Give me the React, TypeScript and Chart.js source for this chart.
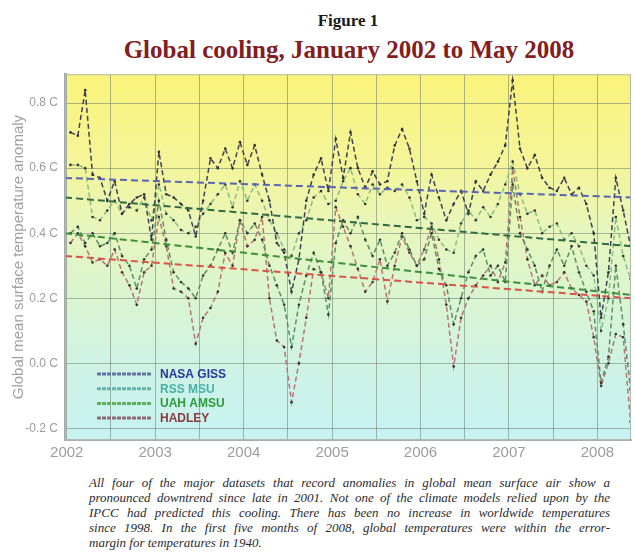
import React, { useEffect, useRef } from 'react';
import { Chart, registerables } from 'chart.js';

Chart.register(...registerables);

// ---------- data ----------
const seriesNames = ['NASA GISS', 'RSS MSU', 'UAH AMSU', 'HADLEY'];
const startYear = 2002; // first value = January 2002, monthly to May 2008

const nasaGiss = [
  0.71, 0.70, 0.84, 0.58, 0.57, 0.50, 0.56, 0.46, 0.49, 0.51, 0.52, 0.38,
  0.65, 0.52, 0.51, 0.49, 0.47, 0.39, 0.50, 0.63, 0.60, 0.66, 0.60, 0.68,
  0.61, 0.67, 0.58, 0.50, 0.37, 0.34, 0.22, 0.32, 0.50, 0.58, 0.63, 0.53,
  0.69, 0.57, 0.71, 0.60, 0.54, 0.59, 0.55, 0.56, 0.67, 0.72, 0.66, 0.56,
  0.46, 0.58, 0.51, 0.44, 0.49, 0.53, 0.46, 0.56, 0.53, 0.58, 0.62, 0.67,
  0.87, 0.66, 0.60, 0.64, 0.57, 0.54, 0.53, 0.57, 0.52, 0.54, 0.49, 0.40,
  0.14, 0.28, 0.57, 0.47, 0.36,
];
const rssMsu = [
  0.61, 0.61, 0.60, 0.45, 0.44, 0.47, 0.50, 0.46, 0.48, 0.47, 0.51, 0.44,
  0.55, 0.46, 0.44, 0.41, 0.40, 0.42, 0.46, 0.49, 0.52, 0.55, 0.48, 0.56,
  0.50, 0.55, 0.50, 0.44, 0.40, 0.35, 0.33, 0.40, 0.44, 0.51, 0.53, 0.49,
  0.50, 0.56, 0.60, 0.52, 0.49, 0.55, 0.52, 0.54, 0.53, 0.55, 0.51, 0.44,
  0.45, 0.43, 0.38, 0.35, 0.34, 0.43, 0.47, 0.44, 0.48, 0.45, 0.49, 0.55,
  0.62, 0.52, 0.46, 0.47, 0.40, 0.42, 0.43, 0.38, 0.40, 0.36, 0.30, 0.27,
  0.10, 0.20, 0.45, 0.33, 0.26,
];
const uahAmsu = [
  0.40, 0.42, 0.37, 0.40, 0.36, 0.37, 0.40, 0.33, 0.30, 0.23, 0.32, 0.35,
  0.50, 0.38, 0.28, 0.25, 0.23, 0.20, 0.27, 0.30, 0.35, 0.40, 0.34, 0.44,
  0.40, 0.43, 0.38, 0.30, 0.24, 0.18, 0.05, 0.18, 0.27, 0.34, 0.28, 0.15,
  0.37, 0.44, 0.40, 0.45, 0.38, 0.33, 0.38, 0.30, 0.34, 0.40, 0.35, 0.30,
  0.32, 0.40, 0.29, 0.24, 0.12, 0.20, 0.28, 0.33, 0.35, 0.27, 0.30, 0.25,
  0.55, 0.40, 0.35, 0.30, 0.22, 0.30, 0.35, 0.30, 0.36, 0.28, 0.22, 0.16,
  -0.06, 0.02, 0.30, 0.12, -0.08,
];
const hadley = [
  0.37, 0.40, 0.36, 0.31, 0.32, 0.30, 0.35, 0.28, 0.24, 0.18, 0.28, 0.30,
  0.45, 0.36, 0.23, 0.22, 0.20, 0.06, 0.14, 0.17, 0.22, 0.34, 0.30, 0.44,
  0.36, 0.38, 0.45, 0.20, 0.07, 0.05, -0.12, 0.00, 0.14, 0.29, 0.28, 0.20,
  0.48, 0.42, 0.36, 0.29, 0.22, 0.25, 0.32, 0.19, 0.30, 0.39, 0.34, 0.30,
  0.35, 0.42, 0.32, 0.18, -0.01, 0.14, 0.20, 0.24, 0.27, 0.30, 0.25, 0.31,
  0.60, 0.45, 0.32, 0.24, 0.27, 0.24, 0.25, 0.28, 0.23, 0.21, 0.19, 0.08,
  -0.07, 0.00, 0.09, 0.08, -0.18,
];
const allSeries = [nasaGiss, rssMsu, uahAmsu, hadley];

// trend lines read at the left and right plot edges
const trendStart = [0.57, 0.51, 0.40, 0.33];
const trendEnd = [0.51, 0.36, 0.21, 0.20];

const yTickValues = [-0.2, 0, 0.2, 0.4, 0.6, 0.8];
const yTickLabels = ['-0.2 C', '0.0 C', '0.2 C', '0.4 C', '0.6 C', '0.8 C'];
const xTickYears = [2002, 2003, 2004, 2005, 2006, 2007, 2008];
const xTickLabels = ['2002', '2003', '2004', '2005', '2006', '2007', '2008'];

const captionLines = [
  'All four of the major datasets that record anomalies in global mean surface air show a',
  'pronounced downtrend since late in 2001. Not one of the climate models relied upon by the',
  'IPCC had predicted this cooling. There has been no increase in worldwide temperatures',
  'since 1998. In the first five months of 2008, global temperatures were within the error-',
  'margin for temperatures in 1940.',
];

// ---------- styles ----------
const X_MIN = 2001.98;
const X_MAX = 2008.38;
const Y_MIN = -0.236;
const Y_MAX = 0.889;
const SANS = '"Liberation Sans", Arial, Helvetica, sans-serif';
const SERIF = '"Liberation Serif", "Times New Roman", Times, serif';
const lineColors = ['#3f3f55', '#86bd86', '#5a8f63', '#b87473'];
const trendColors = ['#5a64b4', '#2f6a44', '#3b8f3b', '#d9534a'];
const legendLineColors = ['#6474a4', '#63b3aa', '#5fae5f', '#8c6c72'];
const legendTextColors = ['#27389a', '#4ab0a5', '#2f9a3a', '#8b3a3a'];
const gridColor = 'rgba(105,125,110,0.55)';

const bgPlugin = {
  id: 'bgGradient',
  beforeDraw(chart: any) {
    const { ctx, chartArea } = chart;
    const { left, top, right, bottom } = chartArea;
    const g = ctx.createLinearGradient(0, top, 0, bottom);
    g.addColorStop(0, '#faf37a');
    g.addColorStop(0.25, '#f4f59a');
    g.addColorStop(0.43, '#e7f6bd');
    g.addColorStop(0.6, '#daf5cf');
    g.addColorStop(0.79, '#cff3e4');
    g.addColorStop(1, '#c6f2f3');
    ctx.save();
    ctx.fillStyle = g;
    ctx.fillRect(left, top, right - left, bottom - top);
    ctx.restore();
  },
  afterDraw(chart: any) {
    const { ctx, chartArea } = chart;
    const { left, top, right, bottom } = chartArea;
    ctx.save();
    ctx.strokeStyle = '#b0b8b0';
    ctx.lineWidth = 1;
    ctx.strokeRect(left + 0.5, top + 0.5, right - left - 1, bottom - top - 1);
    ctx.restore();

    // legend
    const x0 = left + 32;
    const x1 = left + 87;
    const tx = left + 95;
    seriesNames.forEach((name, i) => {
      const y = bottom - 66 + i * 14.7;
      ctx.save();
      ctx.strokeStyle = legendLineColors[i];
      ctx.lineWidth = 3;
      ctx.setLineDash([4, 1]);
      ctx.beginPath();
      ctx.moveTo(x0, y);
      ctx.lineTo(x1, y);
      ctx.stroke();
      ctx.setLineDash([]);
      ctx.fillStyle = legendTextColors[i];
      ctx.font = `bold 12px ${SANS}`;
      ctx.textBaseline = 'middle';
      ctx.fillText(name, tx, y + 0.5);
      ctx.restore();
    });
  },
};

export default function App() {
  const canvasRef = useRef<HTMLCanvasElement | null>(null);

  useEffect(() => {
    if (!canvasRef.current) return;
    const seriesDatasets = allSeries.map((vals, i) => ({
      label: seriesNames[i],
      data: vals.map((v, m) => ({ x: startYear + (m + 0.5) / 12, y: v })),
      borderColor: lineColors[i],
      borderWidth: 1.5,
      borderDash: [5, 3],
      pointRadius: 1.3,
      pointBorderWidth: 0,
      pointBackgroundColor: '#333333',
      tension: 0,
      order: 2,
    }));
    const trendDatasets = allSeries.map((_, i) => ({
      label: seriesNames[i] + ' trend',
      data: [
        { x: X_MIN, y: trendStart[i] },
        { x: X_MAX, y: trendEnd[i] },
      ],
      borderColor: trendColors[i],
      borderWidth: 2,
      borderDash: [7, 4],
      pointRadius: 0,
      tension: 0,
      order: 1,
    }));

    const halfYearTicks: number[] = [];
    xTickYears.forEach((y) => {
      halfYearTicks.push(y);
      if (y + 0.5 <= X_MAX) halfYearTicks.push(y + 0.5);
    });

    const chart = new Chart(canvasRef.current, {
      type: 'line',
      data: { datasets: [...trendDatasets, ...seriesDatasets] as any },
      plugins: [bgPlugin],
      options: {
        animation: false,
        responsive: false,
        maintainAspectRatio: false,
        events: [],
        layout: { padding: { top: 8, right: 3, left: 0, bottom: 0 } },
        plugins: { legend: { display: false }, tooltip: { enabled: false } },
        scales: {
          x: {
            type: 'linear',
            min: X_MIN,
            max: X_MAX,
            afterBuildTicks: (s: any) => {
              s.ticks = halfYearTicks.map((v) => ({ value: v }));
            },
            afterFit: (s: any) => {
              s.height = 30;
            },
            ticks: {
              autoSkip: false,
              maxRotation: 0,
              padding: 4,
              color: '#9c9c9c',
              font: { size: 15, family: SANS },
              callback: (v: any) => {
                const idx = xTickYears.indexOf(Number(v));
                return idx >= 0 ? xTickLabels[idx] : '';
              },
            },
            grid: { color: gridColor, drawTicks: false },
            border: { color: '#a8b0aa', width: 2 },
          },
          y: {
            type: 'linear',
            min: Y_MIN,
            max: Y_MAX,
            afterBuildTicks: (s: any) => {
              s.ticks = yTickValues.map((v) => ({ value: v }));
            },
            afterFit: (s: any) => {
              s.width = 65;
            },
            ticks: {
              padding: 7,
              color: '#9c9c9c',
              font: { size: 12, family: SANS },
              callback: (v: any) => {
                const idx = yTickValues.findIndex((t) => Math.abs(t - Number(v)) < 1e-6);
                return idx >= 0 ? yTickLabels[idx] : '';
              },
            },
            grid: { color: gridColor, drawTicks: false },
            border: { color: '#a4aca6', width: 3 },
            title: {
              display: true,
              text: 'Global mean surface temperature anomaly',
              color: '#a0a0a0',
              font: { size: 15, family: SANS },
              padding: { top: 10, bottom: 0 },
            },
          },
        },
      } as any,
    });
    return () => chart.destroy();
  }, []);

  return (
    <div style={{ position: 'absolute', left: 0, top: 0, width: 635, height: 555, background: '#ffffff', overflow: 'hidden' }}>
      <div
        style={{
          position: 'absolute', left: 248, top: 11, width: 200, textAlign: 'center',
          fontFamily: SERIF, fontWeight: 'bold', fontSize: 17, lineHeight: '20px', color: '#1a1a1a',
        }}
      >
        Figure 1
      </div>
      <div
        style={{
          position: 'absolute', left: 49, top: 36, width: 600, textAlign: 'center',
          fontFamily: SERIF, fontWeight: 'bold', fontSize: 25, lineHeight: '28px', color: '#821d22',
        }}
      >
        Global cooling, January 2002 to May 2008
      </div>
      <canvas
        ref={canvasRef}
        width={635}
        height={410}
        style={{ position: 'absolute', left: 0, top: 60, width: 635, height: 410 }}
      />
      <div style={{ position: 'absolute', left: 89, top: 475, width: 521 }}>
        {captionLines.map((line, i) => (
          <div
            key={i}
            style={{
              fontFamily: SERIF, fontStyle: 'italic', fontSize: 13, lineHeight: '15px', color: '#2c2c2c',
              textAlign: 'justify', textAlignLast: i < captionLines.length - 1 ? 'justify' : 'left',
              whiteSpace: 'nowrap',
            } as any}
          >
            {line}
          </div>
        ))}
      </div>
    </div>
  );
}
